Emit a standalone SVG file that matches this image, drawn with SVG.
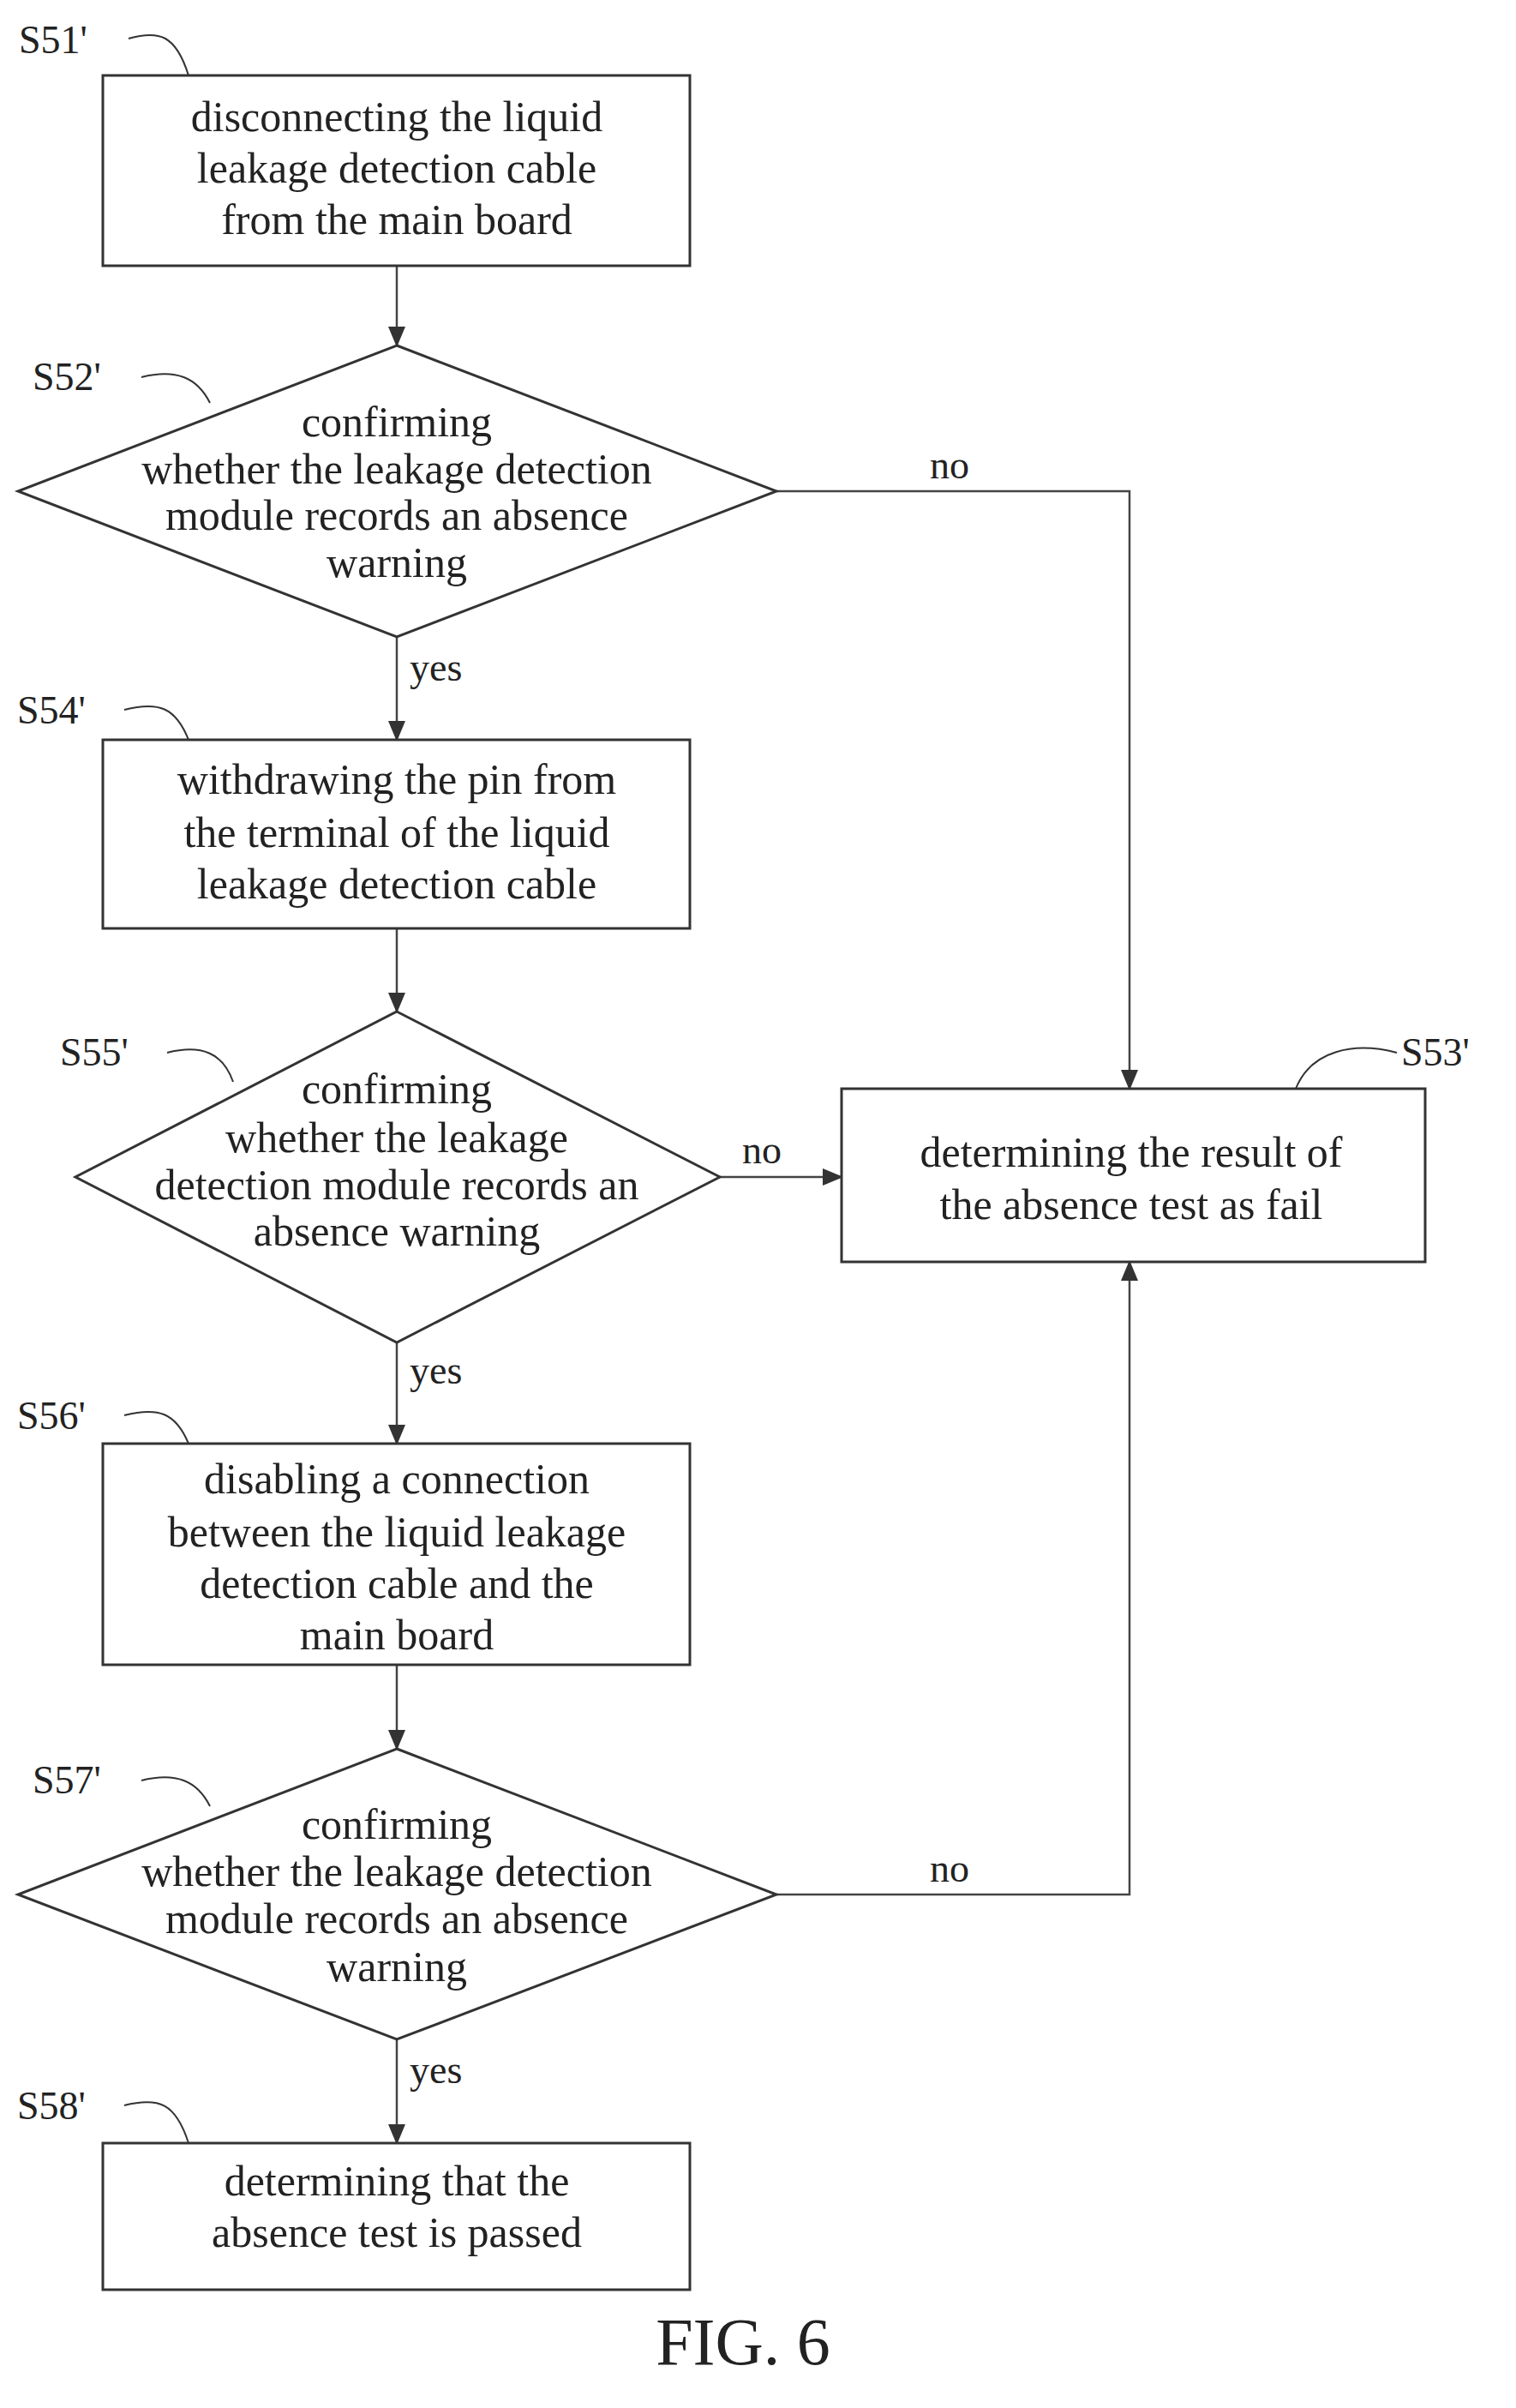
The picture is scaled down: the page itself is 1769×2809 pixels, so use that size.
<svg xmlns="http://www.w3.org/2000/svg" width="1769" height="2809" viewBox="0 0 1769 2809">
<style>
.s{fill:#fff;stroke:#333;stroke-width:3}
.t{font-family:"Liberation Serif",serif;font-size:50px;fill:#222;text-anchor:middle}
.l{font-family:"Liberation Serif",serif;font-size:46px;fill:#222}
.c{fill:none;stroke:#444;stroke-width:2.5}
.ld{fill:none;stroke:#333;stroke-width:2}
</style>
<defs><marker id="a" markerWidth="24" markerHeight="20" refX="22" refY="10" orient="auto" markerUnits="userSpaceOnUse" viewBox="0 0 24 20"><path d="M0,0L24,10L0,20z" fill="#333"/></marker></defs>
<rect width="1769" height="2809" fill="#fff"/>
<g id="connectors">
<path class="c" d="M463,310V403" marker-end="url(#a)"/>
<path class="c" d="M463,743V863" marker-end="url(#a)"/>
<path class="c" d="M463,1083V1180" marker-end="url(#a)"/>
<path class="c" d="M463,1566V1684" marker-end="url(#a)"/>
<path class="c" d="M463,1942V2040" marker-end="url(#a)"/>
<path class="c" d="M463,2379V2500" marker-end="url(#a)"/>
<path class="c" d="M906,573H1318V1270" marker-end="url(#a)"/>
<path class="c" d="M840,1373H982" marker-end="url(#a)"/>
<path class="c" d="M906,2210H1318V1472" marker-end="url(#a)"/>
<text class="l" x="1085" y="558">no</text>
<text class="l" x="866" y="1357">no</text>
<text class="l" x="1085" y="2195">no</text>
<text class="l" x="478" y="794">yes</text>
<text class="l" x="478" y="1614">yes</text>
<text class="l" x="478" y="2430">yes</text>
</g>
<g id="S51"><rect class="s" x="120" y="88" width="685" height="222"/>
<text class="t" x="463" y="153">disconnecting the liquid</text><text class="t" x="463" y="213">leakage detection cable</text><text class="t" x="463" y="273">from the main board</text>
<text class="l" x="22" y="62">S51'</text><path class="ld" d="M150,45C185,35 205,40 220,88"/></g>
<g id="S52"><polygon class="s" points="463,403 906,573 463,743 21,573"/>
<text class="t" x="463" y="509">confirming</text><text class="t" x="463" y="564">whether the leakage detection</text><text class="t" x="463" y="618">module records an absence</text><text class="t" x="463" y="673">warning</text>
<text class="l" x="38" y="455">S52'</text><path class="ld" d="M165,440C205,430 230,440 245,470"/></g>
<g id="S54"><rect class="s" x="120" y="863" width="685" height="220"/>
<text class="t" x="463" y="926">withdrawing the pin from</text><text class="t" x="463" y="988">the terminal of the liquid</text><text class="t" x="463" y="1048">leakage detection cable</text>
<text class="l" x="20" y="844">S54'</text><path class="ld" d="M145,828C185,818 205,825 220,863"/></g>
<g id="S55"><polygon class="s" points="463,1180 840,1373 463,1566 88,1373"/>
<text class="t" x="463" y="1287">confirming</text><text class="t" x="463" y="1344">whether the leakage</text><text class="t" x="463" y="1399">detection module records an</text><text class="t" x="463" y="1453">absence warning</text>
<text class="l" x="70" y="1243">S55'</text><path class="ld" d="M195,1228C235,1218 260,1228 272,1262"/></g>
<g id="S53"><rect class="s" x="982" y="1270" width="681" height="202"/>
<text class="t" x="1320" y="1361">determining the result of</text><text class="t" x="1320" y="1422">the absence test as fail</text>
<text class="l" x="1635" y="1243">S53'</text><path class="ld" d="M1630,1228C1580,1215 1530,1225 1512,1270"/></g>
<g id="S56"><rect class="s" x="120" y="1684" width="685" height="258"/>
<text class="t" x="463" y="1742">disabling a connection</text><text class="t" x="463" y="1804">between the liquid leakage</text><text class="t" x="463" y="1864">detection cable and the</text><text class="t" x="463" y="1924">main board</text>
<text class="l" x="20" y="1667">S56'</text><path class="ld" d="M145,1651C185,1641 205,1648 220,1684"/></g>
<g id="S57"><polygon class="s" points="463,2040 906,2210 463,2379 21,2210"/>
<text class="t" x="463" y="2145">confirming</text><text class="t" x="463" y="2200">whether the leakage detection</text><text class="t" x="463" y="2255">module records an absence</text><text class="t" x="463" y="2311">warning</text>
<text class="l" x="38" y="2092">S57'</text><path class="ld" d="M165,2077C205,2067 230,2077 245,2107"/></g>
<g id="S58"><rect class="s" x="120" y="2500" width="685" height="171"/>
<text class="t" x="463" y="2561">determining that the</text><text class="t" x="463" y="2621">absence test is passed</text>
<text class="l" x="20" y="2472">S58'</text><path class="ld" d="M145,2456C185,2446 205,2453 220,2500"/></g>
<text x="867" y="2758" style="font-family:'Liberation Serif',serif;font-size:78px;fill:#222;text-anchor:middle">FIG. 6</text>
</svg>
